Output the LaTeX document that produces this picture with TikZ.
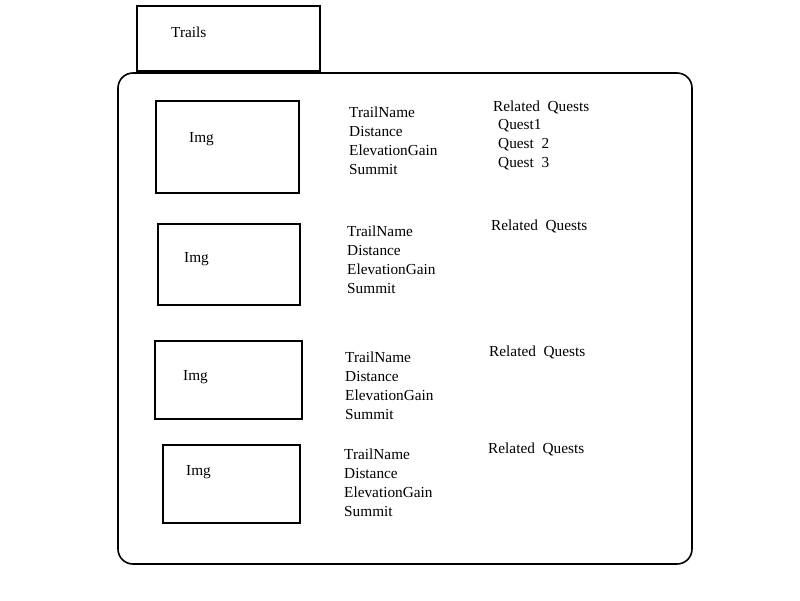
\documentclass[tikz,border=0pt]{standalone}
\usepackage{fontspec}
\setmainfont{Liberation Serif}
\usepackage{tikz}
\tikzset{
  frame/.style={draw=black, line width=1.6pt},
  label/.style={anchor=base west, inner sep=0pt, font=\fontsize{15.3}{19}\selectfont}
}

\begin{document}
\begin{tikzpicture}[x=1pt, y=-1pt]
  \useasboundingbox (0,0) rectangle (800,600);
  % tab and outer panel
  \draw[frame, line width=2pt] (137,6) rectangle (320,71);
  \node[label] (title) at (171,37) {Trails};
  \draw[frame, rounded corners=15pt] (118,73) rectangle (692,564);
  % one row per trail
  \foreach \n/\ax/\ay/\bx/\by/\ix/\iy/\tx/\ty/\rx/\ry in {
      1/156/101/299/193/189/142/349/117/493/111,
      2/158/224/300/305/184/262/347/236/491/230,
      3/155/341/302/419/183/380/345/362/489/356,
      4/163/445/300/523/186/475/344/459/488/453} {
    \draw[frame] (\ax,\ay) rectangle (\bx,\by);
    \node[label] (img\n) at (\ix,\iy) {Img};
    \node[label] (name\n) at (\tx,\ty) {TrailName};
    \node[label] (dist\n) at (\tx,\ty+19) {Distance};
    \node[label] (elev\n) at (\tx,\ty+38) {ElevationGain};
    \node[label] (summit\n) at (\tx,\ty+57) {Summit};
    \node[label] (rel\n) at (\rx,\ry) {Related\ \ Quests};
  }
  \node[label] (q1) at (498,129) {Quest1};
  \node[label] (q2) at (498,148) {Quest\ \ 2};
  \node[label] (q3) at (498,167) {Quest\ \ 3};
\end{tikzpicture}
\end{document}
